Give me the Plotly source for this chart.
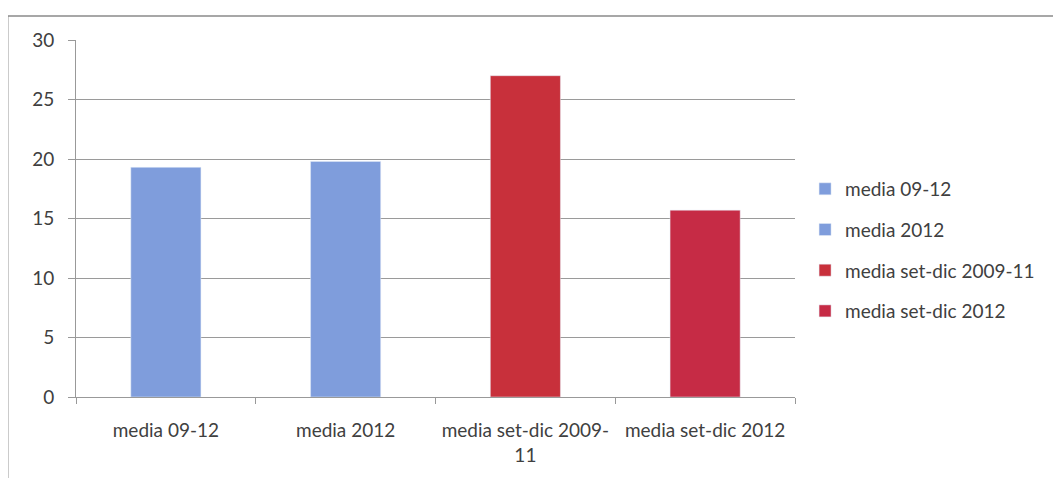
import plotly.graph_objects as go

categories = ["media 09-12", "media 2012", "media set-dic 2009-11", "media set-dic 2012"]
tick_labels = ["media 09-12", "media 2012", "media set-dic 2009-<br>11", "media set-dic 2012"]
values = [19.3, 19.8, 27.0, 15.7]
colors = ["#7f9ddc", "#7f9ddc", "#c8303b", "#c62b45"]
y_ticks = [0, 5, 10, 15, 20, 25, 30]

fig = go.Figure()
for i, (cat, val, col) in enumerate(zip(categories, values, colors)):
    fig.add_trace(go.Bar(
        x=[cat], y=[val], name=cat, marker_color=col, width=0.39,
        legendgroup=f"g{i}",
    ))

fig.update_layout(
    width=1045, height=470,
    margin=dict(l=68, r=258, t=32, b=81),
    plot_bgcolor="white", paper_bgcolor="white",
    barmode="overlay",
    font=dict(family="Lato", size=19, color="#404040"),
    showlegend=True,
    legend=dict(x=1.014, y=0.636, xanchor="left", yanchor="top",
                font=dict(family="Lato", size=19, color="#404040"),
                tracegroupgap=13, traceorder="grouped",
                itemwidth=30),
    shapes=[dict(type="rect", xref="paper", yref="paper",
                 x0=-0.095, x1=1.4, y0=-0.3, y1=1.067,
                 line=dict(color="#8a8a8a", width=1.5), fillcolor="rgba(0,0,0,0)", layer="below")],
)
fig.update_xaxes(
    type="category", categoryorder="array", categoryarray=categories,
    tickvals=categories, ticktext=tick_labels,
    tickson="boundaries", ticks="outside", ticklen=6, tickcolor="#999",
    showline=True, linecolor="#999", linewidth=1,
    tickfont=dict(family="Lato", size=19, color="#404040"),
    ticklabelstandoff=16,
)
fig.update_yaxes(
    range=[0, 30], tickvals=y_ticks,
    ticks="outside", ticklen=7, tickcolor="#999",
    showline=True, linecolor="#999", linewidth=1,
    showgrid=True, gridcolor="#9a9a9a", gridwidth=1,
    tickfont=dict(family="Lato", size=19, color="#404040"),
    ticklabelstandoff=10, zeroline=False,
)
fig.write_html("out.html")
